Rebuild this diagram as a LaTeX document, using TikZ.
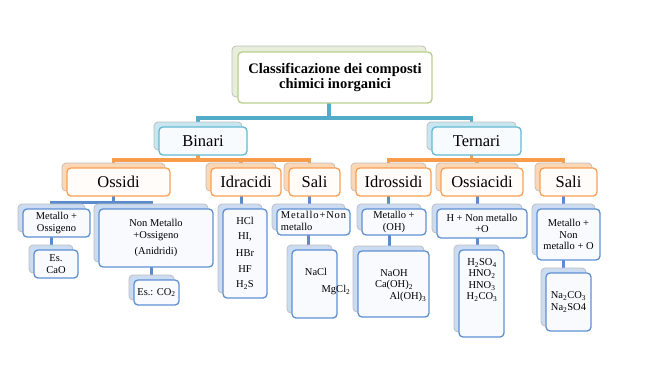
\documentclass[tikz,border=0pt]{standalone}
\usepackage{fontspec}
\setmainfont{Liberation Serif}
\usetikzlibrary{backgrounds}
\definecolor{greenb}{RGB}{185,208,140}
\definecolor{greenback}{RGB}{232,238,220}
\definecolor{tealb}{RGB}{100,185,210}
\definecolor{tealback}{RGB}{200,230,241}
\definecolor{tealfront}{RGB}{247,251,253}
\definecolor{tealc}{RGB}{80,172,200}
\definecolor{orangeb}{RGB}{249,160,85}
\definecolor{orangeback}{RGB}{252,215,182}
\definecolor{orangefront}{RGB}{255,252,249}
\definecolor{orangec}{RGB}{248,155,75}
\definecolor{blueb}{RGB}{95,145,210}
\definecolor{blueback}{RGB}{202,219,242}
\definecolor{bluefront}{RGB}{248,250,254}
\definecolor{bluec}{RGB}{90,140,205}
\newcommand\stackbox[8]{%
  \node[#2back, minimum width={(#5-#3)*1pt}, minimum height={(#6-#4)*1pt}] (#1-b) at ({(#3+#5)/2-#7},{(#4+#6)/2-#7}) {};
  \node[#2front, minimum width={(#5-#3)*1pt}, minimum height={(#6-#4)*1pt}] (#1) at ({(#3+#5)/2},{(#4+#6)/2}) {#8};
}
\tikzset{
  boxbase/.style={rounded corners=4pt, inner sep=0pt, outer sep=0pt, align=center},
  lzback/.style={boxbase, draw=gray!50, fill=greenback, line width=0.8pt},
  lzfront/.style={boxbase, draw=greenb, fill=white, line width=1.4pt, font=\bfseries\fontsize{14.5}{15.5}\selectfont},
  laback/.style={boxbase, draw=gray!50, fill=tealback, line width=0.8pt},
  lafront/.style={boxbase, draw=tealb, fill=tealfront, line width=1.3pt, font=\fontsize{16.5}{18}\selectfont},
  lbback/.style={boxbase, draw=gray!50, fill=orangeback, line width=0.8pt},
  lbfront/.style={boxbase, draw=orangeb, fill=orangefront, line width=1.3pt, font=\fontsize{16.5}{18}\selectfont},
  lcback/.style={boxbase, draw=gray!50, fill=blueback, line width=0.8pt},
  lcfront/.style={boxbase, draw=blueb, fill=bluefront, line width=1.3pt, font=\fontsize{10.5}{11.5}\selectfont},
  smalltxt/.style={inner sep=0pt, font=\fontsize{10.5}{11.5}\selectfont, align=center},
  cteal/.style={draw=tealc, line width=3.4pt},
  corange/.style={draw=orangec, line width=3.4pt},
  cblue/.style={draw=bluec, line width=3pt},
}
\begin{document}
\begin{tikzpicture}[x=1pt,y=-1pt]
\useasboundingbox (0,0) rectangle (645,386);
% level 0
\stackbox{top}{lz}{238}{52}{432}{103}{6}{Classificazione dei composti\\chimici inorganici}
% level 1
\stackbox{bin}{la}{159}{127}{247}{155}{5}{Binari}
\stackbox{ter}{la}{432}{127}{521}{155}{5}{Ternari}
% level 2
\stackbox{oss}{lb}{67}{168}{170}{196}{5}{Ossidi}
\stackbox{idra}{lb}{211}{168}{281}{196}{5}{Idracidi}
\stackbox{salib}{lb}{289}{168}{340}{196}{5}{Sali}
\stackbox{idro}{lb}{356}{168}{431}{196}{5}{Idrossidi}
\stackbox{ossia}{lb}{441}{168}{523}{196}{5}{Ossiacidi}
\stackbox{salit}{lb}{540}{168}{597}{196}{5}{Sali}
% level 3
\stackbox{mo}{lc}{23}{209}{90}{237}{5}{Metallo +\\Ossigeno}
\stackbox{nm}{lc}{99}{209}{213}{267}{5}{Non Metallo\\+Ossigeno\\[5pt](Anidridi)}
\stackbox{hcl}{lc}{223}{209}{267}{298}{5}{HCl\\[3pt]HI,\\[6pt]HBr\\[4pt]HF\\[4pt]H\textsubscript{2}S}
\stackbox{mnm}{lc}{277}{209}{350}{235}{5}{\begin{tabular}{@{}l@{}}{\addfontfeature{LetterSpace=8}Metallo+Non}\\metallo\end{tabular}}
\stackbox{moh}{lc}{362}{209}{426}{235}{5}{Metallo +\\(OH)}
\stackbox{hnm}{lc}{437}{209}{527}{238}{5}{H + Non metallo\\+O}
\stackbox{mnmo}{lc}{537}{209}{600}{260}{5}{Metallo +\\Non\\metallo + O}
% level 4
\stackbox{cao}{lc}{34}{250}{78}{278}{5}{Es.\\CaO}
\stackbox{co2}{lc}{134}{280}{179}{305}{5}{Es.: CO\textsubscript{2}}
\stackbox{nacl}{lc}{292}{250}{337}{318}{5}{}
\stackbox{naoh}{lc}{358}{251}{429}{317}{5}{}
\stackbox{h2so4}{lc}{459}{250}{504}{337}{5}{}
\stackbox{na2co3}{lc}{546}{273}{591}{331}{5}{Na\textsubscript{2}CO\textsubscript{3}\\Na\textsubscript{2}SO4}
% free texts inside boxes
\node[smalltxt] (t-nacl) at (316,272) {NaCl};
\node[smalltxt] (t-mgcl) at (336,290) {MgCl\textsubscript{2}};
\node[smalltxt] (t-naoh) at (394,273) {NaOH};
\node[smalltxt] (t-caoh) at (394,285) {Ca(OH)\textsubscript{2}};
\node[smalltxt] (t-aloh) at (408,297) {Al(OH)\textsubscript{3}};
\node[smalltxt] (t-acids) at (482,280) {H\textsubscript{2}SO\textsubscript{4}\\HNO\textsubscript{2}\\HNO\textsubscript{3}\\H\textsubscript{2}CO\textsubscript{3}};
% bus levels
\coordinate (bus0) at (0,118);
\coordinate (bus1) at (0,160);
\coordinate (bus2) at (0,202);
\begin{pgfonlayer}{background}
\draw[cteal] (top-b.center) -- (top-b.center |- bus0) -| (bin-b.center);
\draw[cteal] (top-b.center |- bus0) -| (ter-b.center);
\draw[corange] (bin-b.center) -- (bin-b.center |- bus1) -| (oss-b.center);
\draw[corange] (bin-b.center |- bus1) -| (idra-b.center);
\draw[corange] (bin-b.center |- bus1) -| (salib-b.center);
\draw[corange] (ter-b.center) -- (ter-b.center |- bus1) -| (idro-b.center);
\draw[corange] (ter-b.center |- bus1) -| (ossia-b.center);
\draw[corange] (ter-b.center |- bus1) -| (salit-b.center);
\draw[cblue] (oss-b.center) -- (oss-b.center |- bus2) -| (mo-b.center);
\draw[cblue] (oss-b.center |- bus2) -| (nm-b.center);
\draw[cblue] (idra-b.center) -- (idra-b.center |- hcl-b.center);
\draw[cblue] (salib-b.center) -- (salib-b.center |- mnm-b.center);
\draw[cblue] (idro-b.center) -- (idro-b.center |- moh-b.center);
\draw[cblue] (ossia-b.center) -- (ossia-b.center |- hnm-b.center);
\draw[cblue] (salit-b.center) -- (salit-b.center |- mnmo-b.center);
\draw[cblue] (mo-b.center) -- (mo-b.center |- cao-b.center);
\draw[cblue] (nm-b.center) -- (nm-b.center |- co2-b.center);
\draw[cblue] (mnm-b.center) -- (mnm-b.center |- nacl-b.center);
\draw[cblue] (moh-b.center) -- (moh-b.center |- naoh-b.center);
\draw[cblue] (hnm-b.center) -- (hnm-b.center |- h2so4-b.center);
\draw[cblue] (mnmo-b.center) -- (mnmo-b.center |- na2co3-b.center);
\end{pgfonlayer}
\end{tikzpicture}
\end{document}
